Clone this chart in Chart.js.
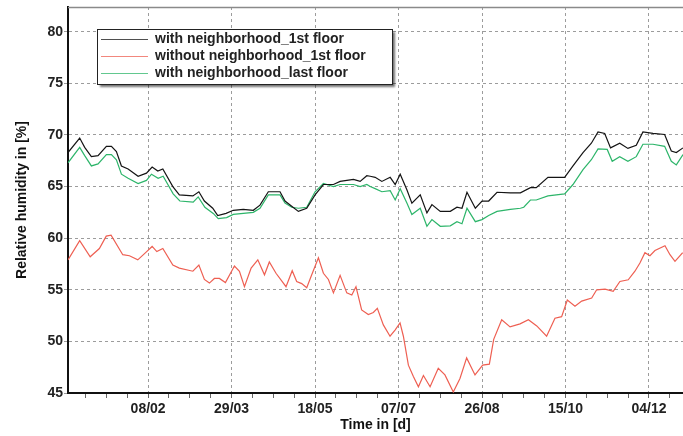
<!DOCTYPE html>
<html>
<head>
<meta charset="utf-8">
<script src="https://cdn.jsdelivr.net/npm/chart.js@4.4.1/dist/chart.umd.min.js"></script>
<style>
    html, body { margin: 0; padding: 0; background: #fff; }
</style>
</head>
<body>
<canvas id="rhChart" width="683" height="436"></canvas>
<script>
// Day of year (0 = 01/01, leap year) and relative humidity [%]
const withFirstDays = [-10, -3, 0, 4, 8, 13, 16, 19, 22, 26, 32, 37, 40.4, 43.8, 46.8, 52.8, 56.7, 64.8, 68.4, 71.7, 76.7, 79.7, 84.7, 89, 95, 101, 105, 110, 117, 120, 124, 128, 133, 138, 143, 149, 153, 161, 165, 169, 171, 174, 178, 183, 186, 189, 193, 196, 201, 205, 208, 213, 219, 223, 226, 229, 234, 238, 242, 247, 255, 261, 267, 270.5, 277.5, 287.5, 292.5, 298.5, 303.5, 307.5, 311.5, 315, 320.5, 325.4, 330.4, 334.4, 340.4, 347.4, 351.4, 354.4, 358.4];
const withFirstRH = [68.3, 69.7, 68.8, 67.9, 68.0, 68.9, 68.9, 68.4, 67.0, 66.7, 66.0, 66.3, 66.9, 66.5, 66.7, 65.0, 64.2, 64.1, 64.5, 63.6, 62.9, 62.2, 62.4, 62.7, 62.8, 62.7, 63.2, 64.5, 64.5, 63.6, 63.1, 62.6, 62.9, 64.2, 65.2, 65.2, 65.5, 65.7, 65.5, 66.05, 66.0, 65.9, 65.5, 65.9, 65.2, 66.2, 64.7, 63.4, 64.2, 62.45, 63.25, 62.6, 62.6, 63.0, 62.9, 64.45, 62.9, 63.6, 63.6, 64.45, 64.4, 64.4, 64.9, 64.9, 65.9, 65.9, 67.0, 68.3, 69.2, 70.3, 70.15, 68.75, 69.2, 68.7, 69.0, 70.3, 70.15, 70.05, 68.45, 68.3, 68.75];

const withoutFirstDays = [-10, -3, 3.3, 8.8, 12.9, 15.8, 22.8, 26.8, 31.8, 36.8, 40.4, 43.2, 46.8, 52.8, 56.7, 64.8, 68.4, 71.7, 74.7, 77.7, 80.7, 84.3, 89.7, 92.7, 95.7, 99.7, 103.7, 107.7, 110.6, 114.6, 120.6, 124.3, 127, 130, 133, 136, 140, 143, 146, 149, 153, 157, 160, 162.5, 165.9, 169.9, 172.9, 175.3, 178.9, 182.9, 185.9, 188.9, 190.9, 193.9, 196.9, 199.9, 202.9, 206.9, 211.8, 215.8, 220.8, 224.8, 228.8, 233.8, 238.4, 242.4, 245, 249.8, 254.8, 260.8, 265.8, 270.8, 276.7, 281.7, 285.7, 289.1, 293.7, 297.7, 303.7, 306.7, 311.7, 316.6, 320.6, 325.6, 329.6, 332.6, 335.6, 338.6, 341.6, 347.6, 350.6, 353.6, 358.2];
const withoutFirstRH = [57.9, 59.76, 58.2, 59.0, 60.2, 60.3, 58.4, 58.3, 57.9, 58.65, 59.2, 58.7, 59.0, 57.4, 57.1, 56.8, 57.4, 56.0, 55.65, 56.1, 56.1, 55.7, 57.3, 56.8, 55.3, 57.1, 57.9, 56.45, 57.7, 56.6, 55.3, 56.85, 55.8, 55.6, 55.2, 56.45, 58.1, 56.6, 56.0, 54.7, 56.4, 54.7, 54.5, 55.3, 53.05, 52.6, 52.8, 53.2, 51.6, 50.5, 51.1, 51.8, 50.5, 47.7, 46.6, 45.6, 46.7, 45.6, 47.4, 46.75, 45.1, 46.4, 48.4, 46.75, 47.7, 47.8, 50.2, 52.1, 51.4, 51.7, 52.1, 51.5, 50.5, 52.25, 52.4, 54.0, 53.4, 53.9, 54.2, 55.0, 55.07, 54.85, 55.8, 55.97, 56.8, 57.6, 58.6, 58.3, 58.8, 59.27, 58.4, 57.75, 58.6];

const withLastDays = [-10, -3, 0, 4, 8, 13, 16, 19, 22, 26, 32, 37, 40, 44, 47, 53, 57, 65, 68, 72, 77, 80, 85, 89, 101, 105, 110, 117, 120, 124, 128, 133, 138, 143, 149, 153, 161, 165, 169, 171, 174, 178, 183, 186, 189, 193, 196, 201, 205, 208, 213, 219, 223, 226, 229, 234, 238, 242, 247, 255, 261, 263, 267, 270.5, 277.5, 287.5, 292.5, 298.5, 303.5, 307.5, 313, 316, 320.5, 325.4, 330.4, 334.4, 340.4, 347.4, 351.4, 354.4, 358.4];
const withLastRH = [67.3, 68.8, 68.0, 67.0, 67.2, 68.1, 68.1, 67.6, 66.2, 65.8, 65.3, 65.6, 66.2, 65.8, 66.0, 64.3, 63.6, 63.5, 64.0, 63.0, 62.4, 61.9, 62.0, 62.3, 62.5, 62.9, 64.2, 64.2, 63.4, 63.0, 62.9, 63.0, 64.5, 65.3, 65.0, 65.2, 65.2, 65.0, 65.2, 65.0, 64.8, 64.5, 64.6, 63.7, 64.8, 63.4, 62.3, 62.9, 61.15, 61.8, 61.15, 61.2, 61.6, 61.4, 62.9, 61.6, 61.8, 62.2, 62.6, 62.8, 62.9, 63.0, 63.7, 63.7, 64.1, 64.3, 65.2, 66.65, 67.6, 68.65, 68.6, 67.45, 67.9, 67.45, 67.9, 69.1, 69.1, 68.9, 67.45, 67.1, 68.1];

const seriesLabels = ['with neighborhood_1st floor', 'without neighborhood_1st floor', 'with neighborhood_last floor'];
const seriesColors = ['#141414', '#ee5f52', '#2db56a'];

const xTickDays = [38, 88, 138, 188, 238, 288, 338];
const xTickLabels = ['08/02', '29/03', '18/05', '07/07', '26/08', '15/10', '04/12'];
const yTicks = [45, 50, 55, 60, 65, 70, 75, 80];

// minor ticks every 12.5 days, majors every 50
const xTickPos = [];
for (let v = 0.5; v <= 358; v += 12.5) xTickPos.push(v);

const toPoints = (days, vals) => days.map((d, i) => ({ x: d, y: vals[i] }));

const tickFont = { family: "'Liberation Sans', Arial, sans-serif", size: 14, weight: 'bold' };
const gridGray = '#9c9c9c';

// top frame line of the plot area
const frameTop = {
    id: 'frameTop',
    afterDraw(chart) {
        const { ctx, chartArea: a } = chart;
        ctx.save();
        ctx.strokeStyle = '#8a8a8a';
        ctx.lineWidth = 1.5;
        ctx.beginPath();
        ctx.moveTo(a.left, a.top + 0.5);
        ctx.lineTo(a.right, a.top + 0.5);
        ctx.stroke();
        ctx.restore();
    }
};

// boxed legend with drop shadow, placed top-left inside the plot
const boxLegend = {
    id: 'boxLegend',
    afterDraw(chart) {
        const ctx = chart.ctx;
        const x = 97, y = 29, w = 295, h = 55;
        ctx.save();
        ctx.shadowColor = 'rgba(0, 0, 0, 0.55)';
        ctx.shadowOffsetX = 3;
        ctx.shadowOffsetY = 3;
        ctx.shadowBlur = 2;
        ctx.fillStyle = '#fff';
        ctx.fillRect(x, y, w, h);
        ctx.restore();

        ctx.save();
        ctx.strokeStyle = '#222';
        ctx.lineWidth = 1;
        ctx.strokeRect(x + 0.5, y + 0.5, w, h);
        ctx.font = "bold 14px 'Liberation Sans', Arial, sans-serif";
        ctx.textBaseline = 'middle';
        chart.data.datasets.forEach((ds, i) => {
            const cy = Math.round(y + 10 + i * 16.8) + 0.5;
            ctx.globalAlpha = 0.75;
            ctx.strokeStyle = ds.borderColor;
            ctx.beginPath();
            ctx.moveTo(101, cy);
            ctx.lineTo(148, cy);
            ctx.stroke();
            ctx.globalAlpha = 1;
            ctx.fillStyle = '#222';
            ctx.fillText(ds.label, 155, cy);
        });
        ctx.restore();
    }
};

const makeSet = (i, days, vals) => ({
    label: seriesLabels[i],
    data: toPoints(days, vals),
    borderColor: seriesColors[i],
    borderWidth: 1.2,
    pointRadius: 0,
    tension: 0,
    fill: false
});

new Chart(document.getElementById('rhChart').getContext('2d'), {
    type: 'line',
    data: {
        datasets: [
            makeSet(0, withFirstDays, withFirstRH),
            makeSet(1, withoutFirstDays, withoutFirstRH),
            makeSet(2, withLastDays, withLastRH)
        ]
    },
    options: {
        responsive: false,
        animation: false,
        layout: { padding: { left: 10, top: 7, right: 0, bottom: 0 } },
        plugins: {
            legend: { display: false },
            tooltip: { enabled: false }
        },
        scales: {
            x: {
                type: 'linear',
                min: -10,
                max: 358.4,
                afterBuildTicks: s => { s.ticks = xTickPos.map(v => ({ value: v })); },
                afterFit: s => { s.height = 43; s.paddingLeft = 0; s.paddingRight = 0; },
                ticks: {
                    autoSkip: false,
                    maxRotation: 0,
                    padding: 3,
                    color: '#222',
                    font: tickFont,
                    callback: v => {
                        const k = xTickDays.indexOf(v);
                        return k >= 0 ? xTickLabels[k] : '';
                    }
                },
                grid: {
                    color: c => (c.tick && xTickDays.includes(c.tick.value)) ? gridGray : 'rgba(0,0,0,0)',
                    tickColor: '#666',
                    tickLength: 5
                },
                border: { color: '#111', width: 2, dash: [3, 3] },
                title: {
                    display: true,
                    text: 'Time in [d]',
                    color: '#111',
                    font: tickFont,
                    padding: { top: 2, bottom: 2 }
                }
            },
            y: {
                type: 'linear',
                min: 45,
                max: 82.4,
                afterBuildTicks: s => { s.ticks = yTicks.map(v => ({ value: v })); },
                afterFit: s => { s.width = 58; s.paddingTop = 0; s.paddingBottom = 0; },
                ticks: { padding: 1, color: '#222', font: tickFont },
                grid: { color: gridGray, tickColor: gridGray, tickLength: 4 },
                border: { color: '#111', width: 2, dash: [3, 3] },
                title: {
                    display: true,
                    text: 'Relative humidity in [%]',
                    color: '#111',
                    font: tickFont,
                    padding: { top: 4, bottom: 4 }
                }
            }
        }
    },
    plugins: [frameTop, boxLegend]
});
</script>
</body>
</html>
